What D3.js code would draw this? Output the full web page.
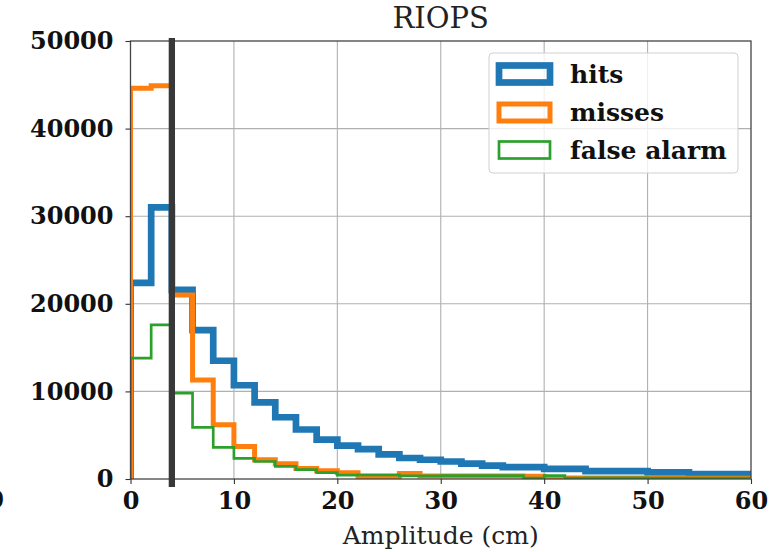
<!DOCTYPE html>
<html>
<head>
<meta charset="utf-8">
<script src="https://cdn.jsdelivr.net/npm/d3@7"></script>
<style>
    body { margin: 0; background: #fff; }
    text { font-family: "DejaVu Serif", serif; }
</style>
</head>
<body>
<svg id="chart" width="773" height="552"></svg>
<script>
// histogram bins (cm) and counts
var binEdges = [0, 2, 4, 6, 8, 10, 12, 14, 16, 18, 20, 22, 24, 26, 28, 30,
    32, 34, 36, 38, 40, 42, 44, 46, 48, 50, 52, 54, 56, 58, 60];
var hits = [22400, 31000, 21600, 17000, 13500, 10700, 8750, 7050, 5650, 4500,
    3800, 3400, 2800, 2400, 2200, 2000, 1750, 1520, 1350, 1350,
    1150, 1150, 900, 900, 900, 750, 750, 550, 550, 550];
var misses = [44600, 44900, 21000, 11300, 6200, 3700, 2200, 1750, 1200, 950,
    700, 200, 170, 630, 350, 350, 350, 350, 350, 300,
    100, 100, 100, 100, 100, 80, 80, 80, 80, 80];
var falseAlarm = [13800, 17600, 9800, 5900, 3600, 2350, 2000, 1440, 1060, 730,
    450, 480, 480, 350, 350, 380, 380, 380, 380, 100,
    380, 100, 120, 120, 120, 100, 100, 100, 100, 100];
var xTicks = [0, 10, 20, 30, 40, 50, 60];
var yTicks = [0, 10000, 20000, 30000, 40000, 50000];
var threshold = 4;
var seriesNames = ["hits", "misses", "false alarm"];
var seriesColors = ["#1f77b4", "#ff7f0e", "#2ca02c"];
var seriesWidths = [6.7, 5, 2.7];

var svg = d3.select("#chart"),
    margin = { top: 41, right: 22, bottom: 73, left: 130.5 },
    width = +svg.attr("width") - margin.left - margin.right,
    height = +svg.attr("height") - margin.top - margin.bottom;

var x = d3.scaleLinear().domain([0, 60]).range([0, width]),
    y = d3.scaleLinear().domain([0, 50000]).range([height, 0]);

svg.append("defs").append("clipPath")
    .attr("id", "plotclip")
    .append("rect")
    .attr("width", width)
    .attr("height", height);

var g = svg.append("g")
    .attr("transform", "translate(" + margin.left + "," + margin.top + ")");

// grid
g.append("g").selectAll("line")
    .data(xTicks.slice(1, -1))
    .enter().append("line")
    .attr("x1", function (d) { return x(d); })
    .attr("x2", function (d) { return x(d); })
    .attr("y1", 0).attr("y2", height)
    .attr("stroke", "#b0b0b0").attr("stroke-width", 1.1);

g.append("g").selectAll("line")
    .data(yTicks.slice(1, -1))
    .enter().append("line")
    .attr("y1", function (d) { return y(d); })
    .attr("y2", function (d) { return y(d); })
    .attr("x1", 0).attr("x2", width)
    .attr("stroke", "#b0b0b0").attr("stroke-width", 1.1);

// step outlines like histtype='step'
function stepPoints(vals) {
    var pts = [[x(binEdges[0]), y(0)]];
    for (var i = 0; i < vals.length; i++) {
        pts.push([x(binEdges[i]), y(vals[i])]);
        pts.push([x(binEdges[i + 1]), y(vals[i])]);
    }
    pts.push([x(binEdges[binEdges.length - 1]), y(0)]);
    return pts;
}

var series = [hits, misses, falseAlarm];
var plot = g.append("g").attr("clip-path", "url(#plotclip)");

plot.selectAll("path")
    .data(series)
    .enter().append("path")
    .attr("d", function (d) { return d3.line()(stepPoints(d)); })
    .attr("fill", "none")
    .attr("stroke", function (d, i) { return seriesColors[i]; })
    .attr("stroke-width", function (d, i) { return seriesWidths[i]; })
    .attr("stroke-linejoin", "miter");

// spines
g.append("rect")
    .attr("width", width)
    .attr("height", height)
    .attr("fill", "none")
    .attr("stroke", "#444")
    .attr("stroke-width", 1.3);

// threshold line
g.append("line")
    .attr("x1", x(threshold)).attr("x2", x(threshold))
    .attr("y1", -3).attr("y2", height + 8)
    .attr("stroke", "#383838")
    .attr("stroke-width", 6.3);

// axes
var xAxis = g.append("g")
    .attr("transform", "translate(0," + height + ")")
    .call(d3.axisBottom(x).tickValues(xTicks).tickSize(5).tickPadding(8).tickFormat(d3.format("d")));

var yAxis = g.append("g")
    .call(d3.axisLeft(y).tickValues(yTicks).tickSize(5).tickPadding(12).tickFormat(d3.format("d")));

[xAxis, yAxis].forEach(function (a) {
    a.select(".domain").remove();
    a.selectAll(".tick line").attr("stroke", "#333").attr("stroke-width", 1.1);
    a.selectAll(".tick text")
        .attr("fill", "#111")
        .style("font-family", "'DejaVu Serif', serif")
        .style("font-weight", "bold")
        .style("font-size", "24px");
});

// title and label
svg.append("text")
    .attr("x", margin.left + width / 2)
    .attr("y", 28)
    .attr("text-anchor", "middle")
    .attr("fill", "#222")
    .style("font-size", "29px")
    .text("RIOPS");

svg.append("text")
    .attr("x", margin.left + width / 2)
    .attr("y", 544)
    .attr("text-anchor", "middle")
    .attr("fill", "#222")
    .style("font-size", "25px")
    .text("Amplitude (cm)");

// leftover tick label, cut by the left edge as in the source figure
svg.append("text")
    .attr("x", 4)
    .attr("y", 508)
    .attr("text-anchor", "end")
    .attr("fill", "#111")
    .style("font-weight", "bold")
    .style("font-size", "24px")
    .text("0");

// legend
var legend = svg.append("g");

legend.append("rect")
    .attr("x", 489).attr("y", 53)
    .attr("width", 249).attr("height", 120)
    .attr("rx", 4)
    .attr("fill", "rgba(255,255,255,0.8)")
    .attr("stroke", "#d0d0d0")
    .attr("stroke-width", 1);

var rowY = [74, 112.5, 150];

var items = legend.selectAll(".item")
    .data(seriesNames)
    .enter().append("g")
    .attr("class", "item")
    .attr("transform", function (d, i) { return "translate(0," + rowY[i] + ")"; });

items.append("rect")
    .attr("x", 499).attr("y", -8.5)
    .attr("width", 51).attr("height", 17)
    .attr("fill", "none")
    .attr("stroke", function (d, i) { return seriesColors[i]; })
    .attr("stroke-width", function (d, i) { return seriesWidths[i]; });

items.append("text")
    .attr("x", 570)
    .attr("dy", "0.35em")
    .attr("fill", "#111")
    .style("font-weight", "bold")
    .style("font-size", "25px")
    .text(function (d) { return d; });
</script>
</body>
</html>
